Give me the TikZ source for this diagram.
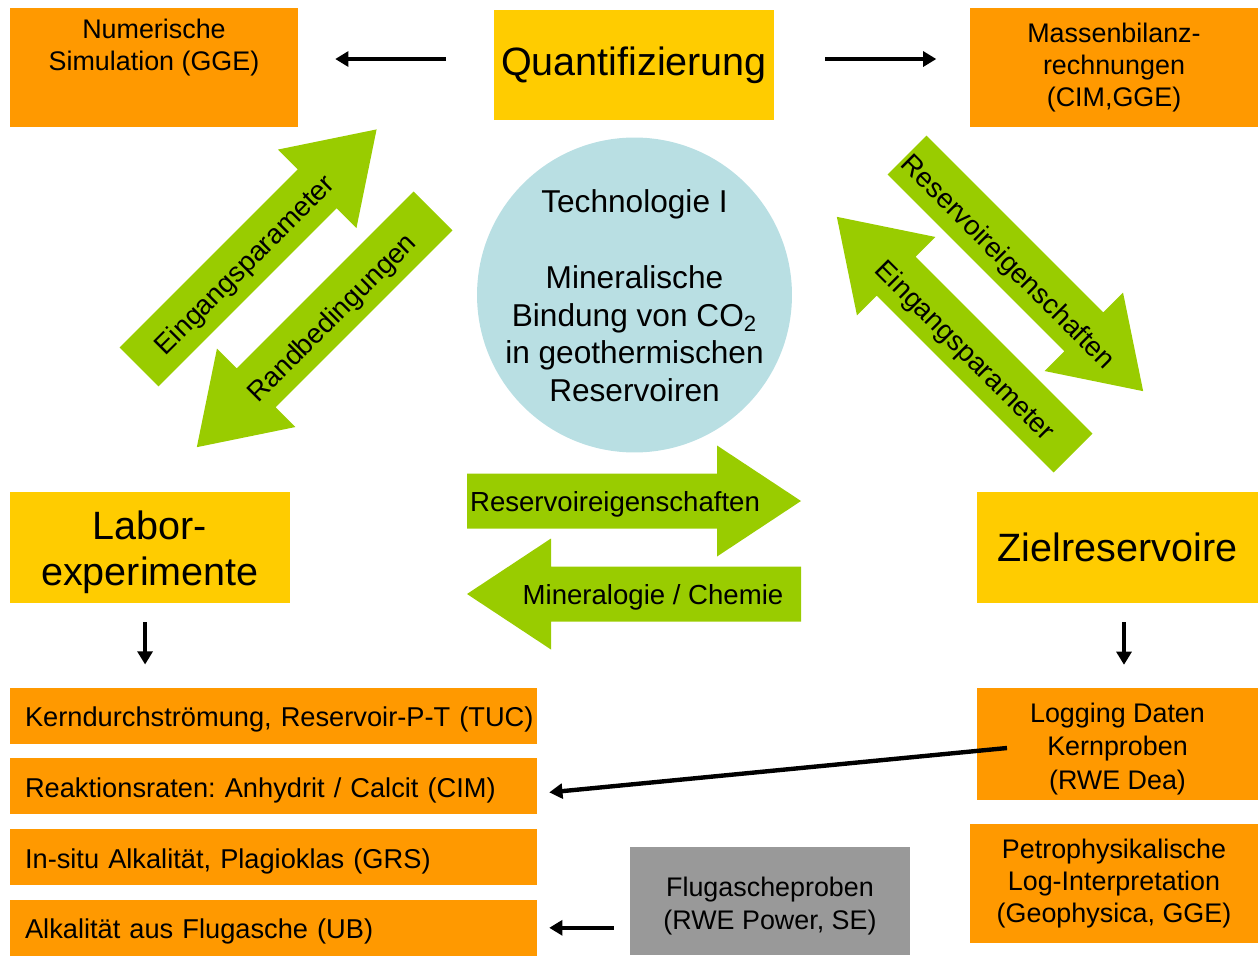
\documentclass[tikz,border=0pt]{standalone}
\usepackage{fontspec}
\setmainfont{Liberation Sans}
\usetikzlibrary{calc}
\usetikzlibrary{positioning}
\usetikzlibrary{arrows.meta}

\definecolor{orangebox}{HTML}{FF9900}
\definecolor{yellowbox}{HTML}{FFCC00}
\definecolor{greenarrow}{HTML}{99CC00}
\definecolor{graybox}{HTML}{999999}
\definecolor{bluecircle}{HTML}{B9DFE3}

% big green arrow: tail point, angle, length
\newcommand{\bigarrow}[3]{%
  \fill[greenarrow, shift={#1}, rotate=#2] (0,-27.5) -- (#3-84,-27.5) -- (#3-84,-55.5) -- (#3,0)
    -- (#3-84,55.5) -- (#3-84,27.5) -- (0,27.5) -- cycle;
}

\begin{document}
\frenchspacing
\begin{tikzpicture}[x=0.02cm, y=-0.02cm,
    obox/.style={rectangle, fill=orangebox, align=center, inner sep=0pt,
      font=\fontsize{15.3}{18}\selectfont},
    ybox/.style={rectangle, fill=yellowbox, align=center, inner sep=0pt,
      font=\fontsize{22.5}{26}\selectfont},
    listbox/.style={rectangle, fill=orangebox, align=left, inner xsep=0.3cm, inner ysep=0pt,
      text width=9.94cm, text height=15.9pt, text depth=3.3pt, minimum height=1.12cm,
      font=\fontsize{15.5}{18}\selectfont},
    lbl/.style={inner sep=0pt, font=\fontsize{15.7}{18}\selectfont},
    blk/.style={-{Triangle[length=7.5pt, width=8.5pt]}, line width=2.5pt}]
    \useasboundingbox (0,0) rectangle (1258,956);

    % top row
    \node[obox, minimum width=5.76cm, minimum height=2.38cm] (numbox) at (154,67.5) {};
    \node[lbl, align=center, font=\fontsize{15.3}{18}\selectfont] (num) at (154,47.5) {Numerische\\Simulation (GGE)};
    \node[ybox, minimum width=5.6cm, minimum height=2.2cm] (quant) at (634,65) {Quantifizierung};
    \node[obox, minimum width=5.76cm, minimum height=2.38cm] (mass) at (1114,67.5)
        {Massenbilanz-\\rechnungen\\(CIM,GGE)};

    % centre
    \node[circle, fill=bluecircle, minimum size=6.3cm, inner sep=0pt] (tech) at (634.5,295) {};
    \node[align=center, font=\fontsize{18}{21.5}\selectfont] (techtxt) at (634.5,296)
        {Technologie I\\[21.5pt]Mineralische\\Bindung von CO\textsubscript{2}\\in geothermischen\\Reservoiren};

    % green arrows
    \bigarrow{(139,367)}{45}{336}
    \bigarrow{(433,211)}{225}{334}
    \bigarrow{(907,155)}{-45}{334}
    \bigarrow{(1073,453)}{135}{334}
    \bigarrow{(467,501)}{0}{334}
    \bigarrow{(801,594)}{180}{334}
    \node[lbl, rotate=45] (eing1) at (246,266) {Eingangsparameter};
    \node[lbl, rotate=45] (rand) at (333,319) {Randbedingungen};
    \node[lbl, rotate=-45] (res2) at (1007,263) {Reservoireigenschaften};
    \node[lbl, rotate=-45] (eing2) at (964,352) {Eingangsparameter};
    \node[lbl] (res1) at (615,504) {Reservoireigenschaften};
    \node[lbl] (mine) at (653,597) {Mineralogie / Chemie};

    % middle row
    \node[ybox, minimum width=5.6cm, minimum height=2.22cm] (laborbox) at (150,547.5) {};
    \node[align=center, inner sep=0pt, font=\fontsize{22.5}{26}\selectfont] (labor) at (150,552) {Labor-\\experimente};
    \node[ybox, minimum width=5.62cm, minimum height=2.22cm] (ziel) at (1117.5,547.5) {Zielreservoire};

    % lower left list
    \foreach \t[count=\i from 1] in {{Kerndurchströmung, Reservoir-P-T (TUC)},
        {Reaktionsraten: Anhydrit / Calcit (CIM)},
        {In-situ Alkalität, Plagioklas (GRS)},
        {Alkalität aus Flugasche (UB)}}
    {
        \node[listbox] (list\i) at (273.5,645+70.7*\i) {\mbox{\t}};
    }

    % lower right
    \node[obox, minimum width=5.62cm, minimum height=2.24cm] (logbox) at (1117.5,744) {};
    \node[lbl, align=center, font=\fontsize{15.3}{19}\selectfont] (log) at (1117.5,749)
        {Logging Daten\\Kernproben\\(RWE Dea)};
    \node[obox, minimum width=5.76cm, minimum height=2.38cm] (petro) at (1114,883.5)
        {Petrophysikalische\\Log-Interpretation\\(Geophysica, GGE)};
    \node[obox, fill=graybox, minimum width=5.6cm, minimum height=2.16cm] (flugbox) at (770,901) {};
    \node[lbl, align=center, font=\fontsize{15.3}{19}\selectfont] (flug) at (770,906)
        {Flugascheproben\\(RWE Power, SE)};
    \coordinate (logstart) at (1007,748);

    % black arrows
    \draw[blk, shorten <=27pt, shorten >=21pt] ([yshift=3.4pt]quant.west) -- ([yshift=3.4pt]quant.west -| numbox.east);
    \draw[blk, shorten <=29pt, shorten >=19pt] ([yshift=3.4pt]quant.east) -- ([yshift=3.4pt]quant.east -| mass.west);
    \draw[blk, shorten <=10.8pt, shorten >=13pt] ([xshift=-2.8pt]laborbox.south) -- ([xshift=-2.8pt]laborbox.south |- list1.north);
    \draw[blk, shorten <=10.8pt, shorten >=13pt] ([xshift=3.7pt]ziel.south) -- ([xshift=3.7pt]ziel.south |- logbox.north);
    \draw[blk] (logstart) -- ($(list2.east)+(12,6)$);
    \draw[blk, shorten <=9pt, shorten >=6.8pt] (flugbox.west |- list4) -- (list4.east);
\end{tikzpicture}
\end{document}
